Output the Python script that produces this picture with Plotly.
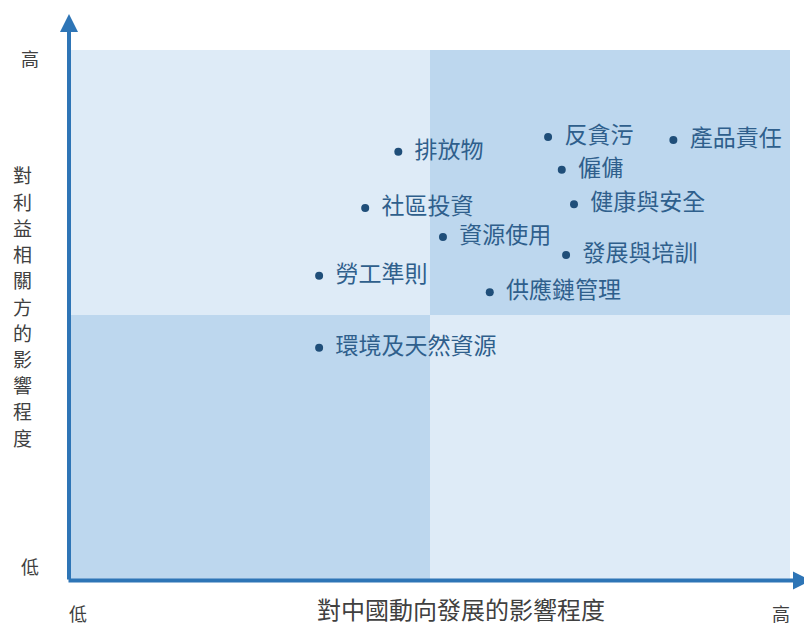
import plotly.graph_objects as go

labels = ["排放物", "反貪污", "產品責任", "僱傭", "社區投資", "健康與安全",
          "資源使用", "發展與培訓", "勞工準則", "供應鏈管理", "環境及天然資源"]
x_vals = [4.56, 6.64, 8.38, 6.83, 4.10, 7.00, 5.18, 6.89, 3.46, 5.83, 3.46]
y_vals = [8.08, 8.36, 8.30, 7.74, 7.02, 7.09, 6.47, 6.13, 5.74, 5.43, 4.38]

x_title = "對中國動向發展的影響程度"
y_title = "對利益相關方的影響程度"
low_label = "低"
high_label = "高"

FONT = "Noto Sans CJK TC"
LIGHT = "#deebf7"
DARK = "#bdd7ee"
AXIS = "#2e75b6"

# page is offset by the 8px body margin; plot area lands at page x 70-790, y 50-580
PL, PR, PT, PB = 70, 790, 50, 580


def px(x):
    return (x - PL) / (PR - PL)


def py(y):
    return (PB - y) / (PB - PT)


fig = go.Figure()

quads = [(0, 5, 5, 10, LIGHT), (5, 10, 5, 10, DARK), (0, 5, 0, 5, DARK), (5, 10, 0, 5, LIGHT)]
for x0, x1, y0, y1, c in quads:
    fig.add_shape(type="rect", xref="x", yref="y", x0=x0, x1=x1, y0=y0, y1=y1,
                  fillcolor=c, line=dict(width=0), layer="below")

fig.add_trace(go.Scatter(
    x=x_vals, y=y_vals, mode="markers+text", text=labels,
    texttemplate="  %{text}",
    textposition="middle right",
    marker=dict(size=8, color="#1f4e79"),
    textfont=dict(family=FONT, size=23, color="#2f5f8c"),
    hoverinfo="skip", showlegend=False, cliponaxis=False,
))

# axis arrows
fig.add_annotation(xref="paper", yref="paper", x=px(69), y=py(14), ax=0, ay=567,
                   text="", showarrow=True, arrowhead=2, arrowsize=0.9,
                   arrowwidth=4, arrowcolor=AXIS)
fig.add_annotation(xref="paper", yref="paper", x=px(820), y=py(580.5), ax=-753, ay=0,
                   text="", showarrow=True, arrowhead=2, arrowsize=0.9,
                   arrowwidth=4, arrowcolor=AXIS)

gray = dict(family=FONT, size=18, color="#404040")
for (xx, yy, t) in [(30, 58, high_label), (30, 566, low_label),
                    (78, 613, low_label), (781, 613, high_label)]:
    fig.add_annotation(xref="paper", yref="paper", x=px(xx), y=py(yy), text=t,
                       xanchor="center", yanchor="middle", showarrow=False, font=gray)

fig.add_annotation(xref="paper", yref="paper", x=px(461), y=py(627), text=x_title,
                   xanchor="center", yanchor="bottom", showarrow=False, borderpad=0,
                   font=dict(family=FONT, size=24, color="#404040"))
for i, ch in enumerate(y_title):
    fig.add_annotation(xref="paper", yref="paper", x=px(22), y=py(175 + 26.2 * i),
                       text=ch, xanchor="center", yanchor="middle", showarrow=False,
                       borderpad=0,
                       font=dict(family=FONT, size=19, color="#404040"))

fig.update_xaxes(range=[0, 10], showgrid=False, zeroline=False, showticklabels=False,
                 showline=False, fixedrange=True)
fig.update_yaxes(range=[0, 10], showgrid=False, zeroline=False, showticklabels=False,
                 showline=False, fixedrange=True)
fig.update_layout(width=804, height=620, margin=dict(l=62, r=22, t=42, b=48),
                  paper_bgcolor="white", plot_bgcolor="white",
                  font=dict(family=FONT))

fig.write_html("out.html")
